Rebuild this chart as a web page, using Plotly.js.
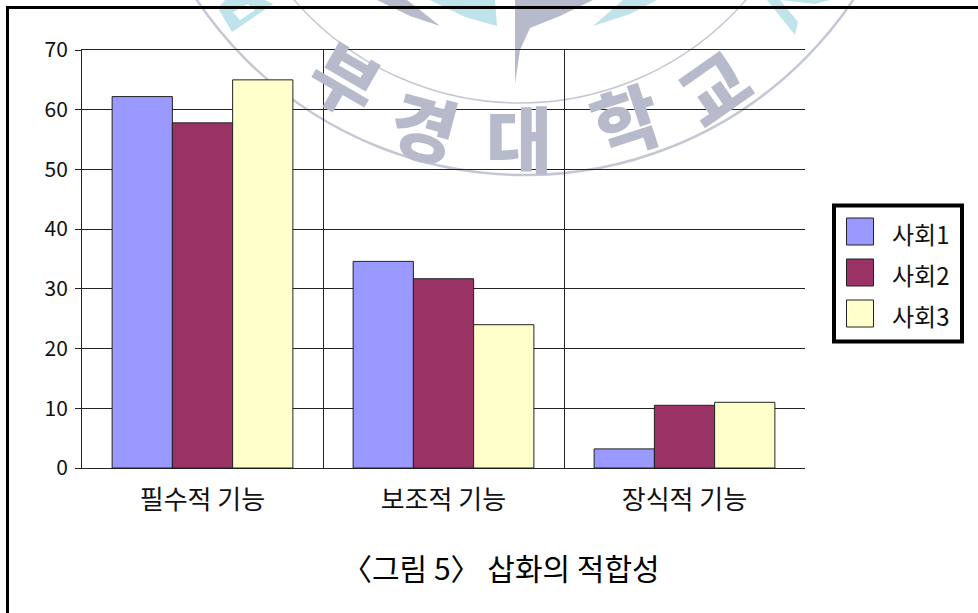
<!DOCTYPE html>
<html>
<head>
<meta charset="utf-8">
<script src="https://cdn.plot.ly/plotly-3.0.1.min.js"></script>
<style>html,body{margin:0;padding:0;background:#fff}#c{width:978px;height:613px}</style>
</head>
<body>
<div id="c"></div>
<script>
const categories = ['필수적 기능', '보조적 기능', '장식적 기능'];
const seriesNames = ['사회1', '사회2', '사회3'];
const society1 = [62.2, 34.6, 3.2];
const society2 = [57.8, 31.7, 10.5];
const society3 = [65.0, 24.0, 11.0];
const seriesValues = [society1, society2, society3];
const colors = ['#9999FF', '#993366', '#FFFFCC'];
const yTicks = [0, 10, 20, 30, 40, 50, 60, 70];
const caption = '〈그림 5〉 삽화의 적합성';
const sealName = ['부', '경', '대', '학', '교'];

const W = 978, H = 613;
const m = {l: 82, r: 173, t: 50, b: 145};
const pw = W - m.l - m.r, ph = H - m.t - m.b;
const px = x => (x - m.l) / pw;
const py = y => 1 - (y - m.t) / ph;
const FONT = '"Noto Sans CJK KR", sans-serif';
const sealGrey = '#b6bacb', sealArc = '#c4c8d4', sealCyan = '#bfe3ea';

function poly(points, fill) {
  const d = points.map((p, i) => (i ? 'L' : 'M') + px(p[0]).toFixed(4) + ',' + py(p[1]).toFixed(4)).join(' ') + ' Z';
  return {type: 'path', xref: 'paper', yref: 'paper', path: d, fillcolor: fill, line: {width: 0}, layer: 'below'};
}
function circle(cx, cy, r, color, w) {
  return {type: 'circle', xref: 'paper', yref: 'paper', x0: px(cx - r), x1: px(cx + r), y0: py(cy + r), y1: py(cy - r),
    line: {color: color, width: w}, fillcolor: 'rgba(0,0,0,0)', layer: 'below'};
}
function rect(x0, y0, x1, y1, fill, lineColor, w, layer) {
  return {type: 'rect', xref: 'paper', yref: 'paper', x0: px(x0), x1: px(x1), y0: py(y1), y1: py(y0),
    fillcolor: fill, line: {color: lineColor, width: w}, layer: layer || 'above'};
}

const shapes = [
  // university seal watermark
  circle(525, -220, 395, sealArc, 2.5),
  circle(520, -196, 299, sealArc, 1.5),
  poly([[515, 84], [520, 50], [530, 28], [560, 16], [593, 0], [515, 0]], sealGrey),
  poly([[377, 0], [410, 16], [440, 26], [420, 10], [407, 0]], sealGrey),
  poly([[430, 0], [465, 17], [497, 26], [495, 0]], sealCyan),
  poly([[593, 26], [630, 14], [657, 0], [623, 0]], sealCyan),
  poly([[767, 0], [795, 35], [798, 22], [780, 0]], sealCyan),
  poly([[780, 0], [815, 4], [830, 0]], sealCyan),
  poly([[218, 8], [232, 32], [273, 4], [265, 0], [225, 0]], sealCyan),
  poly([[233, 12], [240, 20], [255, 10], [248, 4]], '#ffffff'),
  // outer frame
  rect(7.5, 7.5, 990, 640, 'rgba(0,0,0,0)', '#000', 3),
  // legend box
  rect(834, 205.5, 962, 341.5, '#fff', '#000', 4)
];
const swatchTop = [218, 259, 300];
seriesNames.forEach((n, i) => {
  shapes.push(rect(846.5, swatchTop[i], 873.5, swatchTop[i] + 27, colors[i], '#222', 1));
});

const annotations = seriesNames.map((n, i) => ({
  xref: 'paper', yref: 'paper', x: px(890), y: py(swatchTop[i] + 15), xanchor: 'left', yanchor: 'middle',
  text: n, showarrow: false, font: {family: FONT, size: 24, color: '#111'}
}));
annotations.push({
  xref: 'paper', yref: 'paper', x: px(501), y: py(567), xanchor: 'center', yanchor: 'middle',
  text: caption, showarrow: false, font: {family: FONT, size: 30, color: '#000'}
});
const sealPos = [[347, 76, 30], [425, 124, 15], [519, 135, 0], [625, 118, -18], [712, 85, -35]];
sealName.forEach((ch, i) => annotations.push({
  xref: 'paper', yref: 'paper', x: px(sealPos[i][0]), y: py(sealPos[i][1]), xanchor: 'center', yanchor: 'middle',
  text: ch, textangle: sealPos[i][2], showarrow: false,
  font: {family: FONT, size: 72, weight: 900, color: sealGrey}
}));

const traces = seriesNames.map((n, i) => ({
  type: 'bar', name: n, x: categories, y: seriesValues[i],
  marker: {color: colors[i], line: {color: '#222', width: 1}},
  showlegend: false, hoverinfo: 'x+y+name'
}));

const layout = {
  width: W, height: H, margin: m,
  paper_bgcolor: '#fff', plot_bgcolor: 'rgba(0,0,0,0)',
  barmode: 'group', bargap: 0.25, bargroupgap: 0,
  showlegend: false,
  font: {family: FONT, color: '#111'},
  xaxis: {
    type: 'category', tickson: 'boundaries', showgrid: true, gridcolor: '#222', gridwidth: 1,
    showline: true, linecolor: '#222', linewidth: 1, mirror: true, ticks: '', ticklen: 0, ticklabelstandoff: 9,
    tickfont: {family: FONT, size: 26, color: '#111'}, zeroline: false, automargin: false
  },
  yaxis: {
    range: [0, 70], tickvals: yTicks, showgrid: true, gridcolor: '#222', gridwidth: 1,
    showline: true, linecolor: '#222', linewidth: 1, ticks: 'outside', ticklen: 6, tickcolor: '#222', ticklabelstandoff: 3,
    tickfont: {family: FONT, size: 21, color: '#111'}, zeroline: false, automargin: false
  },
  shapes: shapes, annotations: annotations
};
Plotly.newPlot('c', traces, layout, {displayModeBar: false, staticPlot: true});
</script>
</body>
</html>
